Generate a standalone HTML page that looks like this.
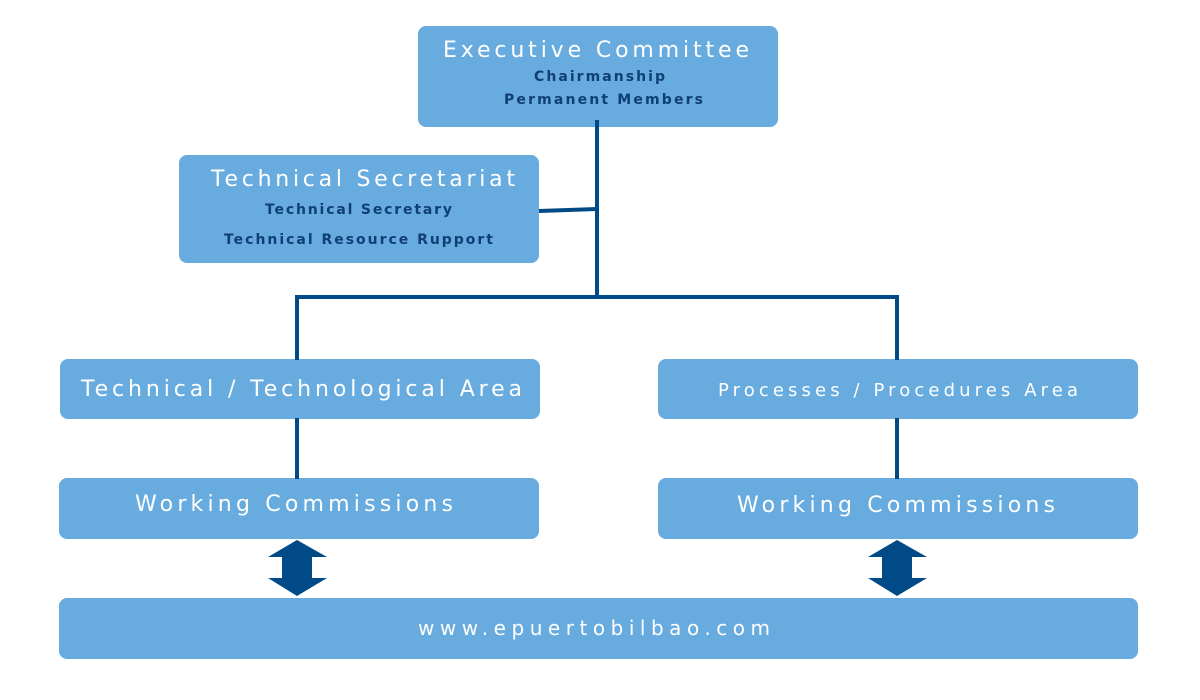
<!DOCTYPE html>
<html><head><meta charset="utf-8"><style>
html,body{margin:0;padding:0;background:#fff;}
svg{display:block;}
text{font-family:"DejaVu Sans","Liberation Sans",sans-serif;}
.w{fill:#fff;font-size:22px;}
.d{fill:#0f3f75;font-size:14px;font-weight:bold;}
</style></head><body>
<svg width="1200" height="700" viewBox="0 0 1200 700" xmlns="http://www.w3.org/2000/svg">
<g fill="#67abdf">
<rect x="418" y="26" width="360" height="101" rx="8"/>
<rect x="179" y="155" width="360" height="108" rx="8"/>
<rect x="60" y="359" width="480" height="60" rx="8"/>
<rect x="658" y="359" width="480" height="60" rx="8"/>
<rect x="59" y="478" width="480" height="61" rx="8"/>
<rect x="658" y="478" width="480" height="61" rx="8"/>
<rect x="59" y="598" width="1079" height="61" rx="8"/>
</g>
<g stroke="#004a87" stroke-width="4" fill="none">
<line x1="597" y1="120" x2="597" y2="299"/>
<polyline points="297,360 297,297 897,297 897,360"/>
<line x1="539" y1="211" x2="597" y2="209"/>
<line x1="297" y1="418" x2="297" y2="479"/>
<line x1="897" y1="418" x2="897" y2="479"/>
</g>
<g fill="#004a87">
<polygon points="297,540 327,557 312,557 312,578 327,578 297,596 268,578 282,578 282,557 268,557"/>
<polygon points="897,540 927,557 912,557 912,578 927,578 897,596 868,578 882,578 882,557 868,557"/>
</g>
<text class="w" x="443" y="57" textLength="306" lengthAdjust="spacing">Executive Committee</text>
<text class="d" x="534" y="81" textLength="131" lengthAdjust="spacing">Chairmanship</text>
<text class="d" x="504" y="104" textLength="199" lengthAdjust="spacing">Permanent Members</text>
<text class="w" x="211" y="186" textLength="304" lengthAdjust="spacing">Technical Secretariat</text>
<text class="d" x="265" y="214" textLength="187" lengthAdjust="spacing">Technical Secretary</text>
<text class="d" x="224" y="244" textLength="269" lengthAdjust="spacing">Technical Resource Rupport</text>
<text class="w" x="81" y="396" textLength="441" lengthAdjust="spacing">Technical / Technological Area</text>
<text class="w" x="718" y="396" textLength="360" lengthAdjust="spacing" style="font-size:18px">Processes / Procedures Area</text>
<text class="w" x="135" y="511" textLength="318" lengthAdjust="spacing">Working Commissions</text>
<text class="w" x="737" y="512" textLength="318" lengthAdjust="spacing">Working Commissions</text>
<text class="w" x="418" y="635" textLength="352" lengthAdjust="spacing" style="font-size:20px">www.epuertobilbao.com</text>
</svg>
</body></html>
